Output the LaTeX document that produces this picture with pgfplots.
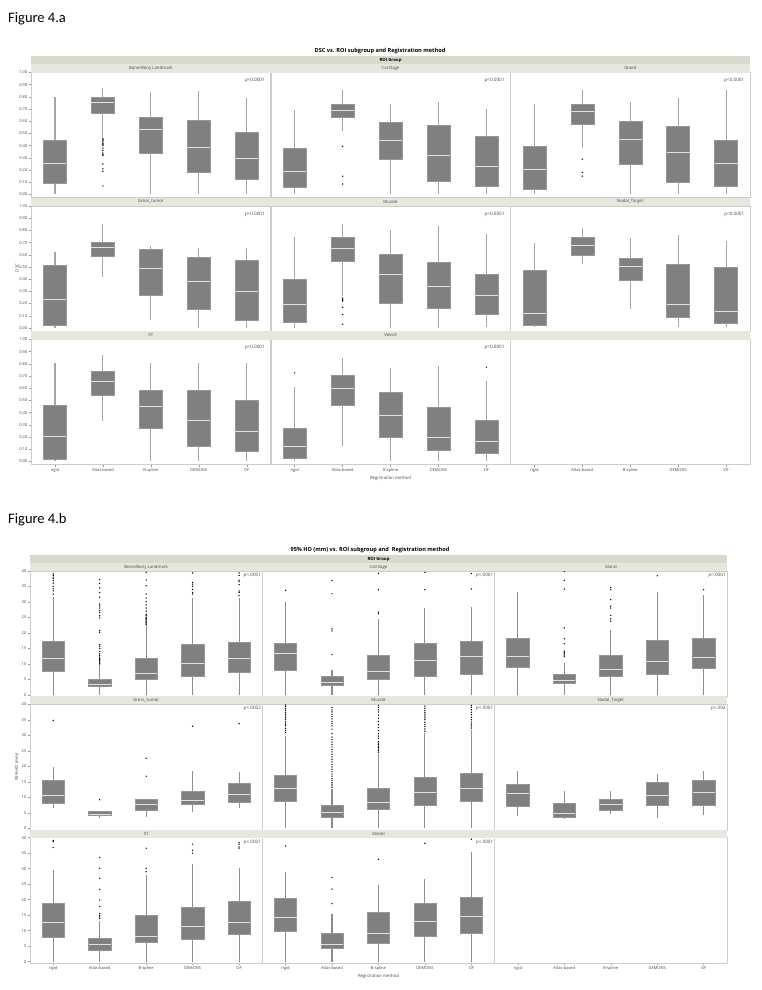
\documentclass[border=0pt]{standalone}
\usepackage{fontspec}
\setmainfont{Open Sans}
\newfontfamily\figfont{Carlito}
\usepackage{pgfplots}
\pgfplotsset{compat=1.18}
\usepgfplotslibrary{statistics}

\definecolor{boxfill}{RGB}{128,128,128}
\definecolor{boxedge}{RGB}{150,150,150}
\definecolor{medcol}{RGB}{225,225,225}
\definecolor{whiskA}{RGB}{165,165,165}
\definecolor{whiskB}{RGB}{140,140,140}
\definecolor{outcol}{RGB}{160,160,160}
\definecolor{stripcol}{RGB}{232,231,221}
\definecolor{roicol}{RGB}{218,217,203}
\definecolor{framecol}{RGB}{205,205,205}
\definecolor{tickcol}{RGB}{150,150,150}
\definecolor{labcol}{RGB}{70,70,70}
\colorlet{whisk}{whiskA}

\newcommand{\tf}{\fontsize{4}{4.5}\selectfont}
\newcommand{\sfn}{\fontsize{4.3}{5}\selectfont}
\newcommand{\pf}{\fontsize{4.6}{5}\selectfont}

\pgfplotsset{
  boxplot/draw direction=y,
  boxplot/box extend=0.48,
  boxplot/whisker extend=0,
  boxplot/every box/.style={draw=boxedge, fill=boxfill, line width=0.4pt},
  boxplot/every whisker/.style={draw=whisk, line width=1.1pt},
  boxplot/every median/.style={draw=medcol, line width=0.9pt},
  bxs/.style={mark=*, mark size=0.45pt, mark options={draw=none, fill=outcol}},
  pan/.style={scale only axis, anchor=north west, xmin=-0.5, xmax=4.5,
    xtick=\empty, ytick=\empty, clip=false,
    boxplot/draw direction=y,
    axis line style={draw=framecol, line width=0.4pt},
    tick align=outside, major tick length=2pt,
    xtick pos=bottom, ytick pos=left,
    tick style={draw=tickcol, line width=0.4pt},
    yticklabel style={font=\tf, text=labcol, inner sep=1.5pt},
    xticklabel style={font=\tf, text=labcol, inner sep=1.5pt}},
  pa/.style={pan, width=239.7pt, height=125pt, ymin=-0.025, ymax=1},
  pb/.style={pan, width=232.3pt, height=125.6pt, ymin=-0.5, ymax=40},
  yla/.style={ytick={0,0.1,0.2,0.3,0.4,0.5,0.6,0.7,0.8,0.9,1},
    yticklabels={0.00,0.10,0.20,0.30,0.40,0.50,0.60,0.70,0.80,0.90,1.00}},
  ylb/.style={ytick={0,5,10,15,20,25,30,35,40},
    yticklabels={0,5,10,15,20,25,30,35,40}},
  xl/.style={xtick={0,1,2,3,4}, xticklabels={rigid,Atlas-based,B-spline,DEMONS,OF}},
}

\newcommand{\bx}[7]{\addplot[bxs, boxplot prepared={draw position=#1, lower whisker=#2, lower quartile=#3, median=#4, upper quartile=#5, upper whisker=#6}] table[row sep=\\, y index=0] {y\\ #7};}
\newcommand{\bn}[6]{\addplot[bxs, boxplot prepared={draw position=#1, lower whisker=#2, lower quartile=#3, median=#4, upper quartile=#5, upper whisker=#6}] coordinates {};}
\newcommand{\pa}[1]{\node[anchor=north east, font=\pf, inner sep=0pt, text=labcol] at (rel axis cs:0.976,0.956) {\textit{p}<#1};}
\newcommand{\pb}[1]{\node[anchor=north east, font=\pf, inner sep=0pt, text=labcol] at (rel axis cs:0.995,0.985) {\textit{p}<#1};}

\begin{document}
\begin{tikzpicture}
\useasboundingbox (0,0) rectangle (762pt,-990pt);
\fill[white] (0,0) rectangle (762pt,-990pt);

% ================= Figure 4.a =================
\node[anchor=base west, font=\figfont\fontsize{14.5}{16}\selectfont, inner sep=0pt] at (8pt,-23pt) {Figure 4.a};
\node[font=\bfseries\fontsize{5.6}{6}\selectfont] at (380pt,-51pt) {DSC vs. ROI subgroup and Registration method};

% Row 1
\begin{axis}[pa, yla, at={(31pt,-72.5pt)}]
\bn{0}{0}{0.096}{0.254}{0.445}{0.80}
\bx{1}{0.47}{0.664}{0.754}{0.795}{0.869}{0.46\\ 0.45\\ 0.44\\ 0.43\\ 0.42\\ 0.41\\ 0.40\\ 0.38\\ 0.36\\ 0.34\\ 0.33\\ 0.32\\ 0.25\\ 0.21\\ 0.19\\ 0.07\\}
\bn{2}{0}{0.336}{0.533}{0.637}{0.842}
\bn{3}{0}{0.183}{0.385}{0.607}{0.847}
\bn{4}{0}{0.126}{0.295}{0.511}{0.795}
\pa{0.0001}
\end{axis}
\begin{axis}[pa, at={(270.7pt,-72.5pt)}]
\bn{0}{0}{0.057}{0.191}{0.377}{0.691}
\bx{1}{0.522}{0.634}{0.691}{0.743}{0.855}{0.396\\ 0.150\\ 0.085\\}
\bn{2}{0}{0.292}{0.445}{0.593}{0.738}
\bn{3}{0}{0.109}{0.322}{0.571}{0.760}
\bn{4}{0}{0.071}{0.230}{0.478}{0.699}
\pa{0.0001}
\end{axis}
\begin{axis}[pa, at={(510.4pt,-72.5pt)}]
\bn{0}{0}{0.041}{0.208}{0.399}{0.740}
\bx{1}{0.377}{0.579}{0.680}{0.738}{0.855}{0.29\\ 0.18\\ 0.15\\}
\bn{2}{0}{0.251}{0.451}{0.598}{0.762}
\bn{3}{0}{0.101}{0.342}{0.557}{0.790}
\bn{4}{0}{0.071}{0.254}{0.443}{0.855}
\pa{0.0001}
\end{axis}

% Row 2
\begin{axis}[pa, yla, at={(31pt,-206pt)}]
\bn{0}{0}{0.022}{0.236}{0.516}{0.625}
\bn{1}{0.416}{0.590}{0.660}{0.701}{0.856}
\bn{2}{0.0625}{0.266}{0.484}{0.644}{0.674}
\bn{3}{0}{0.155}{0.378}{0.584}{0.655}
\bn{4}{0}{0.0625}{0.302}{0.557}{0.655}
\pa{0.0001}
\end{axis}
\begin{axis}[pa, at={(270.7pt,-206pt)}]
\bn{0}{0}{0.049}{0.193}{0.399}{0.747}
\bx{1}{0.26}{0.546}{0.652}{0.742}{0.856}{0.245\\ 0.235\\ 0.225\\ 0.22\\ 0.17\\ 0.11\\ 0.03\\}
\bn{2}{0}{0.204}{0.438}{0.606}{0.800}
\bn{3}{0}{0.158}{0.342}{0.543}{0.832}
\bn{4}{0.008}{0.111}{0.266}{0.443}{0.769}
\pa{0.0001}
\end{axis}
\begin{axis}[pa, at={(510.4pt,-206pt)}]
\bn{0}{0.008}{0.019}{0.117}{0.473}{0.693}
\bn{1}{0.524}{0.595}{0.674}{0.742}{0.823}
\bn{2}{0.155}{0.394}{0.505}{0.576}{0.739}
\bn{3}{0.008}{0.092}{0.196}{0.524}{0.761}
\bn{4}{0.008}{0.035}{0.133}{0.500}{0.709}
\pa{0.0001}
\end{axis}

% Row 3
\begin{axis}[pa, yla, xl, at={(31pt,-339.5pt)}]
\bn{0}{0}{0.019}{0.205}{0.458}{0.811}
\bn{1}{0.332}{0.545}{0.655}{0.740}{0.871}
\bn{2}{0}{0.274}{0.455}{0.586}{0.811}
\bn{3}{0}{0.126}{0.334}{0.584}{0.811}
\bn{4}{0}{0.088}{0.247}{0.499}{0.811}
\pa{0.0001}
\end{axis}
\begin{axis}[pa, xl, at={(270.7pt,-339.5pt)}]
\bx{0}{0}{0.027}{0.126}{0.271}{0.611}{0.726\\}
\bn{1}{0.123}{0.463}{0.597}{0.704}{0.849}
\bn{2}{0}{0.203}{0.381}{0.570}{0.767}
\bn{3}{0}{0.090}{0.195}{0.444}{0.784}
\bx{4}{0}{0.066}{0.162}{0.342}{0.663}{0.773\\}
\pa{0.0001}
\end{axis}
\begin{axis}[pa, xl, at={(510.4pt,-339.5pt)}]
\end{axis}

% strips fig a
\fill[roicol] (31pt,-56.5pt) rectangle (750.1pt,-64pt);
\node[font=\bfseries\sfn] at (390.5pt,-60.25pt) {ROI Group};
\fill[stripcol] (31pt,-64pt) rectangle (750.1pt,-72.5pt);
\fill[stripcol] (31pt,-197.5pt) rectangle (750.1pt,-206pt);
\fill[stripcol] (31pt,-331pt) rectangle (750.1pt,-339.5pt);
\begin{scope}[every node/.style={font=\sfn, text=labcol}]
\node at (150.85pt,-68.25pt) {Bone/Bony Landmark};
\node at (390.55pt,-68.25pt) {Cartilage};
\node at (630.25pt,-68.25pt) {Gland};
\node at (150.85pt,-201.75pt) {Gross\_tumor};
\node at (390.55pt,-201.75pt) {Muscle};
\node at (630.25pt,-201.75pt) {Nodal\_Target};
\node at (150.85pt,-335.25pt) {ST};
\node at (390.55pt,-335.25pt) {Vessel};
\node at (390.5pt,-478pt) {Registration method};
\node[rotate=90] at (17pt,-268pt) {DSC};
\end{scope}

% ================= Figure 4.b =================
\colorlet{whisk}{whiskB}
\node[anchor=base west, font=\figfont\fontsize{14.5}{16}\selectfont, inner sep=0pt] at (8pt,-523pt) {Figure 4.b};
\node[font=\bfseries\fontsize{5.6}{6}\selectfont] at (370pt,-550pt) {95\% HD (mm) vs. ROI subgroup and\ \ Registration method};

% Row 1
\begin{axis}[pb, ylb, at={(30pt,-570.8pt)}]
\bx{0}{0}{7.5}{11.8}{17.3}{31.6}{32.5\\ 33.5\\ 34.2\\ 35\\ 36\\ 36.8\\ 37.5\\ 38\\ 38.5\\ 39\\}
\bx{1}{0}{2.7}{3.2}{5.2}{9.8}{10\\ 10.3\\ 10.6\\ 11\\ 11.4\\ 11.8\\ 12.2\\ 12.7\\ 13.2\\ 14\\ 15\\ 15.7\\ 16.2\\ 20.2\\ 20.8\\ 24.8\\ 25.5\\ 26.5\\ 27.2\\ 28\\ 28.7\\ 29.3\\ 31.5\\ 33\\ 34.5\\ 36\\ 37.2\\}
\bx{2}{0}{5.2}{6.8}{11.8}{22.3}{22.6\\ 22.9\\ 23.2\\ 23.5\\ 23.8\\ 24.2\\ 24.6\\ 25\\ 25.5\\ 26\\ 27\\ 28\\ 29\\ 30\\ 31.2\\ 32.5\\ 35.2\\ 37\\ 39.5\\}
\bx{3}{0}{6.1}{10.1}{16.4}{31.2}{32.5\\ 33\\ 34\\ 35\\ 35.7\\ 36.2\\ 39.3\\}
\bx{4}{0}{7.4}{11.7}{16.9}{31.2}{32\\ 33\\ 33.5\\ 35.5\\ 36.5\\ 37\\ 38.5\\ 39.3\\}
\pb{.0001}
\end{axis}
\begin{axis}[pb, at={(262.3pt,-570.8pt)}]
\bx{0}{0}{7.8}{13.2}{16.7}{30.1}{33.7\\}
\bx{1}{0}{3.0}{3.9}{5.9}{7.9}{13\\ 20.6\\ 21.3\\ 32.6\\ 36.9\\}
\bx{2}{0}{5.0}{7.5}{12.9}{24.5}{26.2\\ 26.7\\ 33.9\\ 39.2\\}
\bx{3}{0}{6.1}{11.1}{16.8}{28.0}{33.9\\ 39.5\\}
\bx{4}{0}{6.5}{12.5}{17.2}{28.3}{34.1\\ 39.1\\}
\pb{.0001}
\end{axis}
\begin{axis}[pb, at={(494.6pt,-570.8pt)}]
\bn{0}{0}{8.9}{12.5}{18.4}{33.2}
\bx{1}{0}{3.9}{4.7}{6.6}{10.2}{12.3\\ 12.8\\ 13.2\\ 13.6\\ 14.1\\ 16.5\\ 18.1\\ 21.6\\ 34.1\\ 36.9\\ 39.8\\}
\bx{2}{0}{6.1}{8.2}{12.7}{20.9}{23.8\\ 24.5\\ 25.6\\ 28.0\\ 28.6\\ 30.7\\ 33.9\\ 34.6\\}
\bx{3}{0}{6.8}{10.8}{17.5}{33.3}{38.4\\}
\bx{4}{0}{8.6}{12.0}{18.3}{32.1}{33.9\\}
\pb{.0001}
\end{axis}

% Row 2
\begin{axis}[pb, ylb, at={(30pt,-704.2pt)}]
\bx{0}{6.4}{8.2}{10.6}{15.6}{19.6}{34.8\\}
\bx{1}{3.2}{4.1}{4.6}{5.6}{5.6}{9.2\\}
\bx{2}{3.7}{5.9}{7.6}{9.5}{9.5}{16.8\\ 22.6\\}
\bx{3}{5.1}{7.9}{8.9}{12.1}{18.6}{32.9\\}
\bx{4}{6.4}{8.4}{10.8}{14.6}{18.0}{33.7\\}
\pb{.0002}
\end{axis}
\begin{axis}[pb, at={(262.3pt,-704.2pt)}]
\bx{0}{0}{8.7}{12.9}{17.2}{29.9}{30.8\\ 31.5\\ 32.2\\ 33\\ 33.6\\ 34.3\\ 35\\ 35.6\\ 36.2\\ 36.8\\ 37.4\\ 38\\ 38.6\\ 39.2\\ 39.7\\}
\bx{1}{0}{3.6}{5.0}{7.4}{12.7}{13.2\\ 13.7\\ 14.2\\ 14.8\\ 15.4\\ 16\\ 16.8\\ 17.5\\ 18.3\\ 19\\ 19.8\\ 20.6\\ 21.4\\ 22.2\\ 23\\ 23.8\\ 24.6\\ 25.4\\ 26.2\\ 27\\ 27.8\\ 28.6\\ 29.4\\ 30.5\\ 32\\ 33\\ 33.8\\ 34.5\\ 35.3\\ 36\\ 36.7\\ 37.5\\ 38.2\\ 39\\}
\bx{2}{0}{6.2}{8.2}{13.0}{24.0}{24.5\\ 25\\ 25.5\\ 26\\ 26.5\\ 27\\ 27.5\\ 28\\ 29\\ 29.7\\ 30.5\\ 31.5\\ 32.5\\ 33.4\\ 34.5\\ 35.5\\ 36.5\\ 37.5\\ 38.2\\ 39\\ 39.6\\}
\bx{3}{0}{7.4}{11.4}{16.4}{30.8}{31.3\\ 32\\ 32.8\\ 33.5\\ 34.2\\ 35\\ 35.6\\ 36.2\\ 36.8\\ 37.4\\ 38\\ 38.7\\ 39.4\\}
\bx{4}{0}{8.7}{12.8}{17.9}{31.8}{32.3\\ 33\\ 33.6\\ 34.3\\ 35\\ 35.8\\ 36.6\\ 37.4\\ 38.2\\ 39\\ 39.6\\}
\pb{.0001}
\end{axis}
\begin{axis}[pb, at={(494.6pt,-704.2pt)}]
\bn{0}{4.0}{7.1}{11.2}{14.3}{18.6}
\bn{1}{2.9}{3.5}{4.8}{8.2}{12.0}
\bn{2}{4.5}{5.9}{7.7}{9.4}{12.0}
\bn{3}{3.4}{7.3}{10.7}{14.7}{17.5}
\bn{4}{4.2}{7.5}{11.5}{15.4}{18.6}
\pb{.002}
\end{axis}

% Row 3
\begin{axis}[pb, ylb, xl, at={(30pt,-837.6pt)}]
\bx{0}{0}{8.0}{12.6}{18.8}{29.7}{36.8\\ 38.7\\ 39.1\\}
\bx{1}{0}{3.7}{5.5}{7.5}{13.0}{13.9\\ 14.4\\ 14.8\\ 15.5\\ 17.8\\ 19.9\\ 23.3\\ 26.9\\ 30.1\\ 33.6\\}
\bx{2}{0}{6.4}{8.0}{15.1}{27.9}{29.0\\ 30.1\\ 36.6\\}
\bx{3}{0}{7.1}{11.4}{17.5}{31.5}{35.0\\ 35.9\\ 37.9\\}
\bx{4}{0}{8.7}{12.8}{19.5}{30.1}{36.6\\ 37.0\\ 37.9\\ 38.4\\}
\pb{.0001}
\end{axis}
\begin{axis}[pb, xl, at={(262.3pt,-837.6pt)}]
\bx{0}{0}{9.8}{14.3}{20.5}{28.8}{37.3\\}
\bx{1}{0}{4.2}{5.7}{9.3}{15.3}{18.7\\ 23.4\\ 27.2\\}
\bx{2}{0}{6.0}{9.0}{16.0}{24.7}{33.0\\}
\bx{3}{0}{8.3}{12.9}{18.9}{26.7}{38.2\\}
\bx{4}{0}{9.3}{14.6}{20.7}{35.4}{39.5\\}
\pb{.0001}
\end{axis}
\begin{axis}[pb, xl, at={(494.6pt,-837.6pt)}]
\end{axis}

% strips fig b
\fill[roicol] (30pt,-555pt) rectangle (726.9pt,-563pt);
\node[font=\bfseries\sfn] at (378.5pt,-559pt) {ROI Group};
\fill[stripcol] (30pt,-563pt) rectangle (726.9pt,-570.8pt);
\fill[stripcol] (30pt,-696.4pt) rectangle (726.9pt,-704.2pt);
\fill[stripcol] (30pt,-829.8pt) rectangle (726.9pt,-837.6pt);
\begin{scope}[every node/.style={font=\sfn, text=labcol}]
\node at (146.15pt,-566.9pt) {Bone/Bony Landmark};
\node at (378.45pt,-566.9pt) {Cartilage};
\node at (610.75pt,-566.9pt) {Gland};
\node at (146.15pt,-700.3pt) {Gross\_tumor};
\node at (378.45pt,-700.3pt) {Muscle};
\node at (610.75pt,-700.3pt) {Nodal\_Target};
\node at (146.15pt,-833.7pt) {ST};
\node at (378.45pt,-833.7pt) {Vessel};
\node at (378.5pt,-976pt) {Registration method};
\node[rotate=90] at (17pt,-767pt) {95\% HD (mm)};
\end{scope}
\end{tikzpicture}
\end{document}
